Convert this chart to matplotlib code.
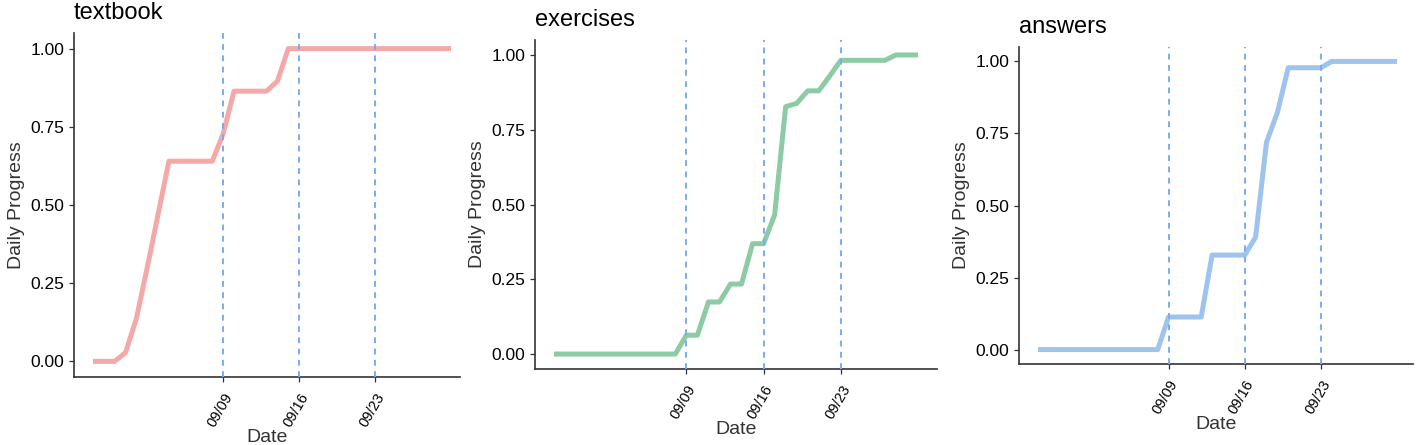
import numpy as np
import matplotlib.pyplot as plt

plt.rcParams['font.family'] = ['Liberation Sans', 'DejaVu Sans']

# dni od 08/28 do 09/30
daty = np.arange(np.datetime64('2019-08-28'), np.datetime64('2019-10-01'))

textbook = [0, 0, 0, 0.028, 0.137, 0.30, 0.47, 0.64, 0.64, 0.64, 0.64, 0.64,
            0.728, 0.864, 0.864, 0.864, 0.864, 0.896, 1.0, 1.0, 1.0, 1.0, 1.0,
            1.0, 1.0, 1.0, 1.0, 1.0, 1.0, 1.0, 1.0, 1.0, 1.0, 1.0]
exercises = [0, 0, 0, 0, 0, 0, 0, 0, 0, 0, 0, 0,
             0.063, 0.063, 0.174, 0.174, 0.234, 0.234, 0.369, 0.369, 0.465,
             0.827, 0.838, 0.880, 0.880, 0.93, 0.982, 0.982, 0.982, 0.982,
             0.982, 1.0, 1.0, 1.0]
answers = [0, 0, 0, 0, 0, 0, 0, 0, 0, 0, 0, 0,
           0.113, 0.113, 0.113, 0.113, 0.328, 0.328, 0.328, 0.328, 0.39,
           0.719, 0.822, 0.978, 0.978, 0.978, 0.978, 1.0, 1.0, 1.0, 1.0,
           1.0, 1.0, 1.0]

tytuly = ['textbook', 'exercises', 'answers']
serie = [textbook, exercises, answers]
kolory = ['#F4A9A8', '#8DCBA4', '#9DC3EE']
etykiety_dat = ['09/09', '09/16', '09/23']
linie_pionowe = [np.datetime64('2019-09-09'), np.datetime64('2019-09-16'),
                 np.datetime64('2019-09-23')]

W, H = 1416, 445
fig = plt.figure(figsize=(W / 100, H / 100), dpi=100)

# pozycje osi w pikselach: lewo, prawo, gora, dol; oraz zakres osi x w dniach
ramki = [(74, 460, 33, 377), (535, 937, 40, 369), (1019, 1413, 47, 364)]
zakresy = [(-1.75, 33.83), (-1.72, 34.72), (-1.75, 34.47)]

for tytul, y, kolor, (l, r, t, b), zak in zip(tytuly, serie, kolory, ramki, zakresy):
    ax = fig.add_axes([l / W, 1 - b / H, (r - l) / W, (b - t) / H])
    x = [(d - daty[0]).astype(int) for d in daty]
    ax.plot(x, y, color=kolor, lw=3.6, solid_capstyle='butt', zorder=2)
    pozycje = [(d - daty[0]).astype(int) for d in linie_pionowe]
    for p in pozycje:
        ax.axvline(p, color='#7AABF2', lw=1.4, ls=(0, (3, 2.8)), zorder=3)
    ax.set_xlim(*zak)
    ax.set_ylim(-0.05, 1.05)
    ax.set_xticks(pozycje)
    ax.set_xticklabels(etykiety_dat, rotation=60, ha='right', va='top',
                       rotation_mode='anchor', fontsize=10.5)
    ax.set_yticks([0, 0.25, 0.5, 0.75, 1.0])
    ax.set_yticklabels(['0.00', '0.25', '0.50', '0.75', '1.00'], fontsize=12.5)
    ax.tick_params(length=3.5, width=0.9, color='#333333', labelcolor='black')
    ax.tick_params(axis='x', pad=6)
    for s in ['top', 'right']:
        ax.spines[s].set_visible(False)
    for s in ['left', 'bottom']:
        ax.spines[s].set_color('#333333')
        ax.spines[s].set_linewidth(1.2)
    ax.set_xlabel('Date', fontsize=14, color='#333333', labelpad=0)
    ax.set_ylabel('Daily Progress', fontsize=14, color='#333333', labelpad=4)
    ax.set_title(tytul, loc='left', fontsize=17, pad=10, x=0)

plt.savefig('out.png', dpi=100)
